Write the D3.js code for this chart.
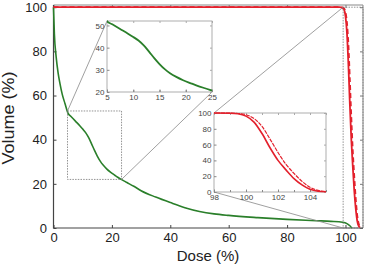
<!DOCTYPE html>
<html>
<head>
<meta charset="utf-8">
<script src="https://cdn.jsdelivr.net/npm/d3@7"></script>
<style>
  body { margin: 0; background: #fff; }
  svg { display: block; font-family: "Liberation Sans", Arial, sans-serif; }
</style>
</head>
<body>
<svg id="chart" width="369" height="264"></svg>
<script>
// green curve (dose %, volume %)
const greenDose = [0, 0.3, 0.9, 1.6, 2.2, 3, 3.9, 5, 6, 7.5, 9, 10, 11, 12, 13, 14, 15, 16, 17, 18.2, 19.5, 21, 22, 23.5, 25, 27.5, 30, 35, 40, 45, 50, 55, 60, 70, 80, 90, 95, 99, 100.5, 101.5, 102.2];
const greenVol  = [100, 88, 77.6, 70, 65.5, 60.5, 56.5, 51.9, 50.5, 48.4, 46.3, 44.8, 43.2, 41, 38.2, 35.3, 32.6, 30.3, 28.5, 26.8, 25.3, 23.9, 23, 21.8, 20.7, 18.9, 16.9, 14, 11.5, 9.2, 7.5, 6.4, 5.7, 4.7, 3.9, 3.3, 3, 2.6, 2.0, 1, 0];

// red curves: solid and dashed
const redDose   = [0, 98, 99, 99.5, 100, 100.5, 101, 101.5, 102, 102.5, 103, 103.5, 104, 104.5, 105];
const redSolid  = [100, 100, 99.7, 99, 96, 88.5, 74, 56, 40, 28, 17, 9, 3.4, 1, 0.3];
const redDashed = [100, 100, 99.9, 99.4, 97.8, 93, 83, 67, 50, 35, 23.5, 13.5, 6, 2, 0.5];

const xTicks = [0, 20, 40, 60, 80, 100];
const yTicks = [0, 20, 40, 60, 80, 100];
const inset1XTicks = [5, 10, 15, 20, 25];
const inset1YTicks = [20, 30, 40, 50];
const inset2XTicks = [98, 100, 102, 104];
const inset2MinorX = [98, 99, 100, 101, 102, 103, 104, 105];
const inset2YTicks = [0, 20, 40, 60, 80, 100];

// zoom windows in main-plot coordinates
const zoom1 = {x0: 4.8, x1: 23.3, y0: 22, y1: 53};
const zoom2 = {x0: 99.2, x1: 106, y0: 0, y1: 100};

const svg = d3.select("svg#chart");
const green = "#2a7f2a", red = "#e3202c";
const fmt = d3.format("d");

const x = d3.scaleLinear().domain([0, 106]).range([53.5, 363]);
const y = d3.scaleLinear().domain([0, 101]).range([228, 5]);

const pts = (xs, ys) => xs.map((d, i) => [d, ys[i]]);

function styleAxis(g, col) {
  g.select(".domain").remove();
  g.selectAll(".tick line").attr("stroke", col);
  g.selectAll("text").attr("fill", "#222");
}

// ---- main plot ----
svg.append("g").attr("transform", "translate(0,228)")
  .call(d3.axisBottom(x).tickValues(xTicks).tickSize(-3).tickPadding(5).tickFormat(fmt))
  .call(g => { styleAxis(g, "#444"); g.selectAll("text").attr("font-size", 13); });
svg.append("g").attr("transform", "translate(53.5,0)")
  .call(d3.axisLeft(y).tickValues(yTicks).tickSize(-3).tickPadding(6.5).tickFormat(fmt))
  .call(g => { styleAxis(g, "#444"); g.selectAll("text").attr("font-size", 13); });
svg.append("g").attr("transform", "translate(0,5)")
  .call(d3.axisTop(x).tickValues(xTicks).tickSize(-3).tickFormat(""))
  .call(g => styleAxis(g, "#777"));
svg.append("g").attr("transform", "translate(363,0)")
  .call(d3.axisRight(y).tickValues(yTicks).tickSize(-3).tickFormat(""))
  .call(g => styleAxis(g, "#777"));

// frame
svg.append("path")
  .attr("d", `M53.5,5H363V228`).attr("fill", "none").attr("stroke", "#888").attr("stroke-width", 1);
svg.append("path")
  .attr("d", `M53.5,5V228H363`).attr("fill", "none").attr("stroke", "#444").attr("stroke-width", 1.2);

const line = d3.line().x(d => x(d[0])).y(d => y(d[1])).curve(d3.curveMonotoneX);

svg.append("path").datum(pts(greenDose, greenVol))
  .attr("d", line).attr("fill", "none").attr("stroke", green).attr("stroke-width", 1.6);
svg.append("path").datum(pts(redDose, redSolid))
  .attr("d", line).attr("fill", "none").attr("stroke", red).attr("stroke-width", 1.8);
svg.append("path").datum(pts(redDose, redDashed))
  .attr("d", line).attr("fill", "none").attr("stroke", red).attr("stroke-width", 1.8)
  .attr("stroke-dasharray", "5,3");

// axis titles
svg.append("text").attr("x", 208).attr("y", 261).attr("text-anchor", "middle")
  .attr("font-size", 15).attr("fill", "#222").text("Dose (%)");
svg.append("text").attr("transform", "translate(14,118) rotate(-90)").attr("text-anchor", "middle")
  .attr("font-size", 16).attr("fill", "#222")
  .attr("textLength", 93).attr("lengthAdjust", "spacingAndGlyphs").text("Volume (%)");

// ---- insets ----
function drawInset(id, zoom, xr, yr, xDom, yDom, xt, yt, minorX, series, connect) {
  const ix = d3.scaleLinear().domain(xDom).range(xr);
  const iy = d3.scaleLinear().domain(yDom).range(yr);
  const rx0 = x(zoom.x0), rx1 = x(zoom.x1), ry0 = y(zoom.y0), ry1 = y(zoom.y1);

  // zoom rectangle in main plot
  svg.append("rect").attr("x", rx0).attr("y", ry1).attr("width", rx1 - rx0).attr("height", ry0 - ry1)
    .attr("fill", "none").attr("stroke", "#777").attr("stroke-width", 0.8).attr("stroke-dasharray", "1.5,1.2");

  // connectors
  connect(rx0, rx1, ry0, ry1).forEach(c => {
    svg.append("line").attr("x1", c[0]).attr("y1", c[1]).attr("x2", c[2]).attr("y2", c[3])
      .attr("stroke", "#888").attr("stroke-width", 0.8);
  });

  const g = svg.append("g");
  g.append("rect").attr("x", xr[0]).attr("y", yr[1]).attr("width", xr[1] - xr[0]).attr("height", yr[0] - yr[1])
    .attr("fill", "#fff").attr("stroke", "#999").attr("stroke-width", 0.8);

  g.append("g").attr("transform", `translate(0,${yr[0]})`)
    .call(d3.axisBottom(ix).tickValues(minorX).tickSize(-2).tickFormat(""))
    .call(a => styleAxis(a, "#888"));
  g.append("g").attr("transform", `translate(0,${yr[0]})`)
    .call(d3.axisBottom(ix).tickValues(xt).tickSize(-2.5).tickPadding(2.5).tickFormat(fmt))
    .call(a => { styleAxis(a, "#888"); a.selectAll("text").attr("font-size", 8).attr("fill", "#444"); });
  g.append("g").attr("transform", `translate(${xr[0]},0)`)
    .call(d3.axisLeft(iy).tickValues(yt).tickSize(-2.5).tickPadding(2.5).tickFormat(fmt))
    .call(a => { styleAxis(a, "#888"); a.selectAll("text").attr("font-size", 8).attr("fill", "#444"); });
  g.append("g").attr("transform", `translate(0,${yr[1]})`)
    .call(d3.axisTop(ix).tickValues(minorX).tickSize(-2).tickFormat(""))
    .call(a => styleAxis(a, "#aaa"));
  g.append("g").attr("transform", `translate(${xr[1]},0)`)
    .call(d3.axisRight(iy).tickValues(yt).tickSize(-2).tickFormat(""))
    .call(a => styleAxis(a, "#aaa"));

  g.append("clipPath").attr("id", id).append("rect")
    .attr("x", xr[0]).attr("y", yr[1] - 1).attr("width", xr[1] - xr[0]).attr("height", yr[0] - yr[1] + 2);
  const il = d3.line().x(d => ix(d[0])).y(d => iy(d[1])).curve(d3.curveMonotoneX);
  series.forEach(s => {
    g.append("path").datum(s.data).attr("clip-path", `url(#${id})`)
      .attr("d", il).attr("fill", "none").attr("stroke", s.color)
      .attr("stroke-width", s.width).attr("stroke-dasharray", s.dash || null);
  });
}

drawInset("clip1", zoom1, [107, 212], [92, 21], [5, 25], [20, 52],
  inset1XTicks, inset1YTicks, inset1XTicks,
  [{data: pts(greenDose, greenVol), color: green, width: 1.8}],
  (rx0, rx1, ry0, ry1) => [[rx0, ry1, 107, 21], [rx1, ry0, 212, 92]]);

drawInset("clip2", zoom2, [214, 326], [192, 113], [98, 105], [0, 100],
  inset2XTicks, inset2YTicks, inset2MinorX,
  [{data: pts(redDose, redSolid), color: red, width: 1.6},
   {data: pts(redDose, redDashed), color: red, width: 1.2, dash: "4,1"}],
  (rx0, rx1, ry0, ry1) => [[rx0, ry1, 214, 113], [rx0, ry0, 214, 192]]);
</script>
</body>
</html>
